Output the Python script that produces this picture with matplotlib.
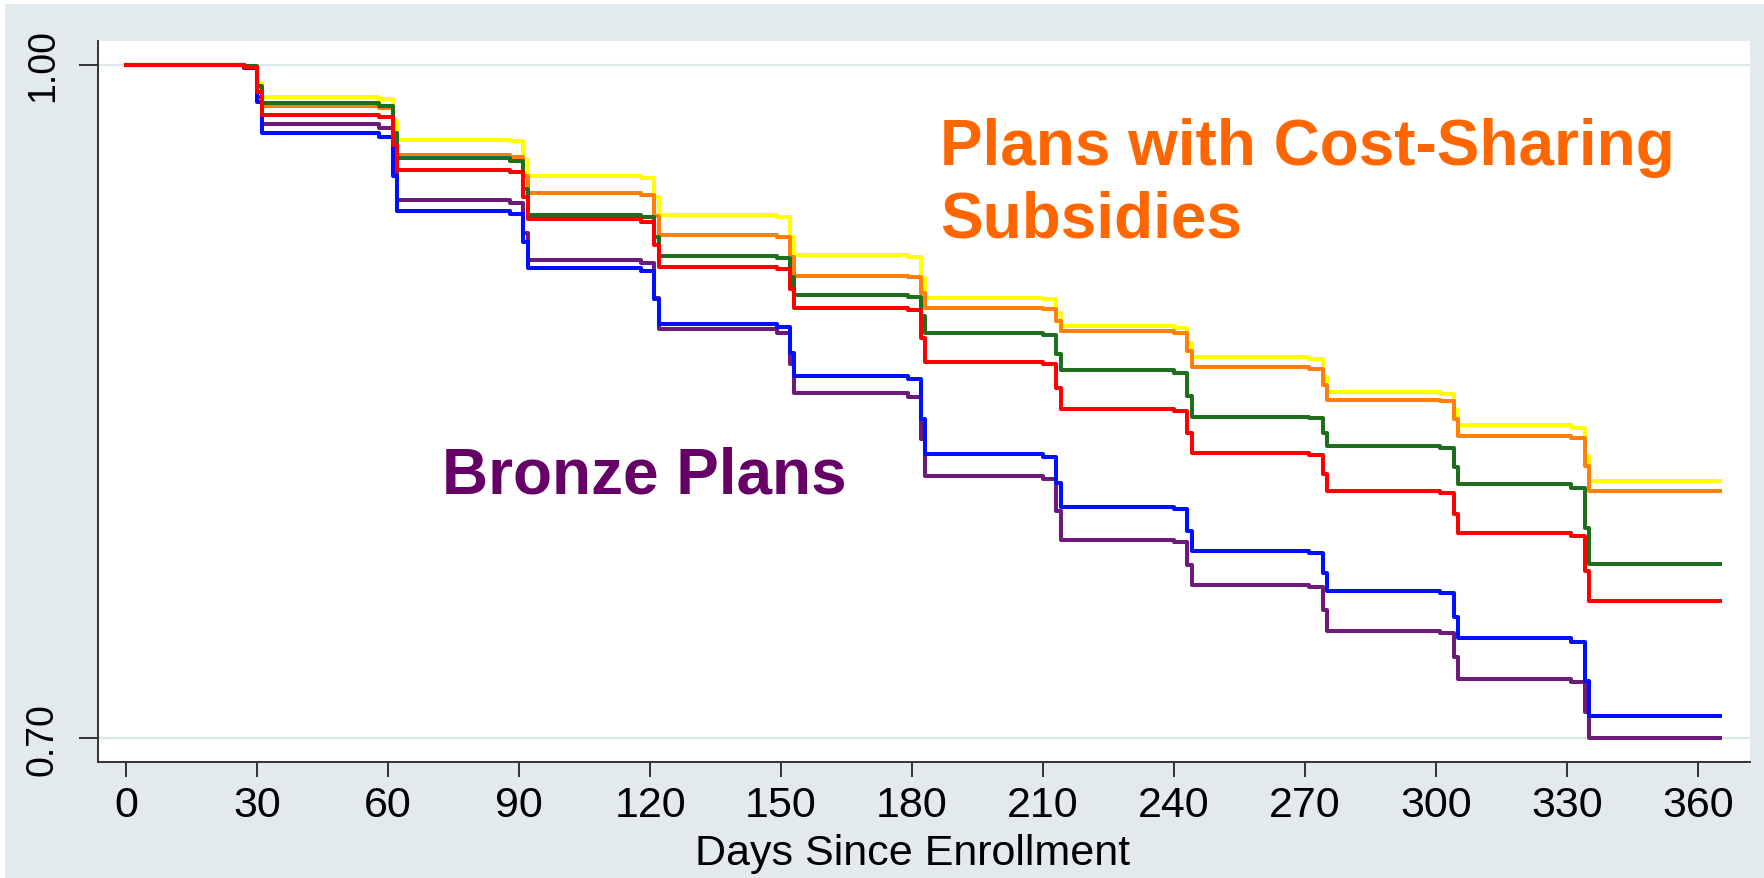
import numpy as np
import matplotlib.pyplot as plt
from matplotlib.patches import Rectangle

# Dias em que a curva muda de nível (degraus de cada mês)
dias = [0, 27, 30, 31, 58, 61, 62, 88, 91, 92, 118, 121, 122, 149, 152, 153,
        179, 182, 183, 210, 213, 214, 240, 243, 244, 271, 274, 275,
        301, 304, 305, 331, 334, 335, 365]

# Sobrevivência estimada por grupo de plano
amarelo = [1.0, 0.9993, 0.9920, 0.9855, 0.9846, 0.9751, 0.9666, 0.9658, 0.9576, 0.9503,
           0.9494, 0.9409, 0.9332, 0.9323, 0.9234, 0.9154, 0.9144, 0.9048, 0.8961,
           0.8955, 0.8892, 0.8835, 0.8828, 0.8759, 0.8697, 0.8689, 0.8611, 0.8541,
           0.8534, 0.8460, 0.8394, 0.8382, 0.8258, 0.8147, 0.8147]
laranja = [1.0, 0.9991, 0.9899, 0.9816, 0.9805, 0.9695, 0.9596, 0.9588, 0.9503, 0.9427,
           0.9418, 0.9325, 0.9242, 0.9233, 0.9142, 0.9060, 0.9053, 0.8981, 0.8916,
           0.8911, 0.8860, 0.8814, 0.8806, 0.8725, 0.8652, 0.8645, 0.8573, 0.8508,
           0.8500, 0.8420, 0.8348, 0.8336, 0.8212, 0.8101, 0.8101]
verde = [1.0, 0.9992, 0.9906, 0.9830, 0.9818, 0.9694, 0.9583, 0.9570, 0.9445, 0.9332,
         0.9323, 0.9231, 0.9148, 0.9139, 0.9053, 0.8976, 0.8967, 0.8881, 0.8804,
         0.8796, 0.8713, 0.8639, 0.8629, 0.8525, 0.8432, 0.8426, 0.8361, 0.8303,
         0.8295, 0.8210, 0.8134, 0.8116, 0.7937, 0.7776, 0.7776]
roxo = [1.0, 0.9987, 0.9855, 0.9736, 0.9719, 0.9550, 0.9398, 0.9385, 0.9252, 0.9132,
        0.9116, 0.8961, 0.8821, 0.8807, 0.8665, 0.8538, 0.8519, 0.8334, 0.8167,
        0.8153, 0.8011, 0.7884, 0.7874, 0.7773, 0.7683, 0.7673, 0.7571, 0.7479,
        0.7468, 0.7361, 0.7264, 0.7251, 0.7119, 0.7001, 0.7001]
azul = [1.0, 0.9985, 0.9832, 0.9695, 0.9678, 0.9504, 0.9348, 0.9335, 0.9209, 0.9095,
        0.9082, 0.8957, 0.8844, 0.8833, 0.8718, 0.8615, 0.8598, 0.8423, 0.8266,
        0.8254, 0.8137, 0.8032, 0.8022, 0.7924, 0.7835, 0.7826, 0.7737, 0.7657,
        0.7646, 0.7540, 0.7445, 0.7428, 0.7256, 0.7101, 0.7101]
vermelho = [1.0, 0.9989, 0.9878, 0.9778, 0.9766, 0.9643, 0.9532, 0.9521, 0.9410, 0.9311,
            0.9300, 0.9195, 0.9100, 0.9091, 0.9000, 0.8918, 0.8906, 0.8784, 0.8675,
            0.8665, 0.8561, 0.8468, 0.8458, 0.8360, 0.8271, 0.8263, 0.8179, 0.8103,
            0.8094, 0.7999, 0.7914, 0.7899, 0.7747, 0.7610, 0.7610]

curvas = [(amarelo, '#ffff00'), (laranja, '#ff7f0a'), (verde, '#1e6e1e'),
          (roxo, '#6e1a7a'), (azul, '#0010ff'), (vermelho, '#ff0000')]

xticks = [0, 30, 60, 90, 120, 150, 180, 210, 240, 270, 300, 330, 360]
yticks = [0.70, 1.00]

plt.rcParams['font.family'] = ['Liberation Sans', 'DejaVu Sans']
fundo = '#e2eaed'

#%% Gráfico
fig = plt.figure(figsize=(17.65, 8.79), dpi=100)
fig.patch.set_facecolor('white')
fig.patches.append(Rectangle((5 / 1765, 0), 1, 1 - 5 / 879, transform=fig.transFigure,
                             facecolor=fundo, edgecolor='none', zorder=-10))

ax = fig.add_axes([0.0554, 0.1316, 0.9915 - 0.0554, 0.9526 - 0.1316])
ax.set_facecolor('white')
for y, cor in curvas:
    ax.step(dias, y, where='post', color=cor, lw=2.9, zorder=3)

ax.set_xlim(-6.5, 371.9)
ax.set_ylim(0.6893, 1.0107)
ax.set_xticks(xticks)
ax.set_yticks(yticks)
ax.set_yticklabels(['{:.2f}'.format(v) for v in yticks], rotation=90, va='center')
ax.tick_params(axis='x', length=10.5, width=1.4, color='#333333', labelsize=31, pad=6)
ax.tick_params(axis='y', length=13.5, width=1.4, color='#333333', labelsize=27, pad=13)
ax.yaxis.grid(True, color='#dde7ea', lw=1.6, zorder=1)
ax.set_axisbelow(True)
for lado in ['top', 'right']:
    ax.spines[lado].set_visible(False)
for lado in ['left', 'bottom']:
    ax.spines[lado].set_color('#333333')
    ax.spines[lado].set_linewidth(1.4)

# Título do eixo x posto logo abaixo dos rótulos dos ticks
fig.text(913 / 1765, 1 - 865 / 879, 'Days Since Enrollment', fontsize=31,
         ha='center', va='baseline')

# Rótulos dos grupos
fig.text(940 / 1765, 1 - 165 / 879, 'Plans with Cost-Sharing', color='#ff6600',
         fontsize=46, fontweight='bold', ha='left', va='baseline')
fig.text(940 / 1765, 1 - 237 / 879, 'Subsidies', color='#ff6600',
         fontsize=46, fontweight='bold', ha='left', va='baseline')
fig.text(442 / 1765, 1 - 493 / 879, 'Bronze Plans', color='#660066',
         fontsize=46, fontweight='bold', ha='left', va='baseline')

plt.savefig('out.png', dpi=100, facecolor=fig.get_facecolor())
